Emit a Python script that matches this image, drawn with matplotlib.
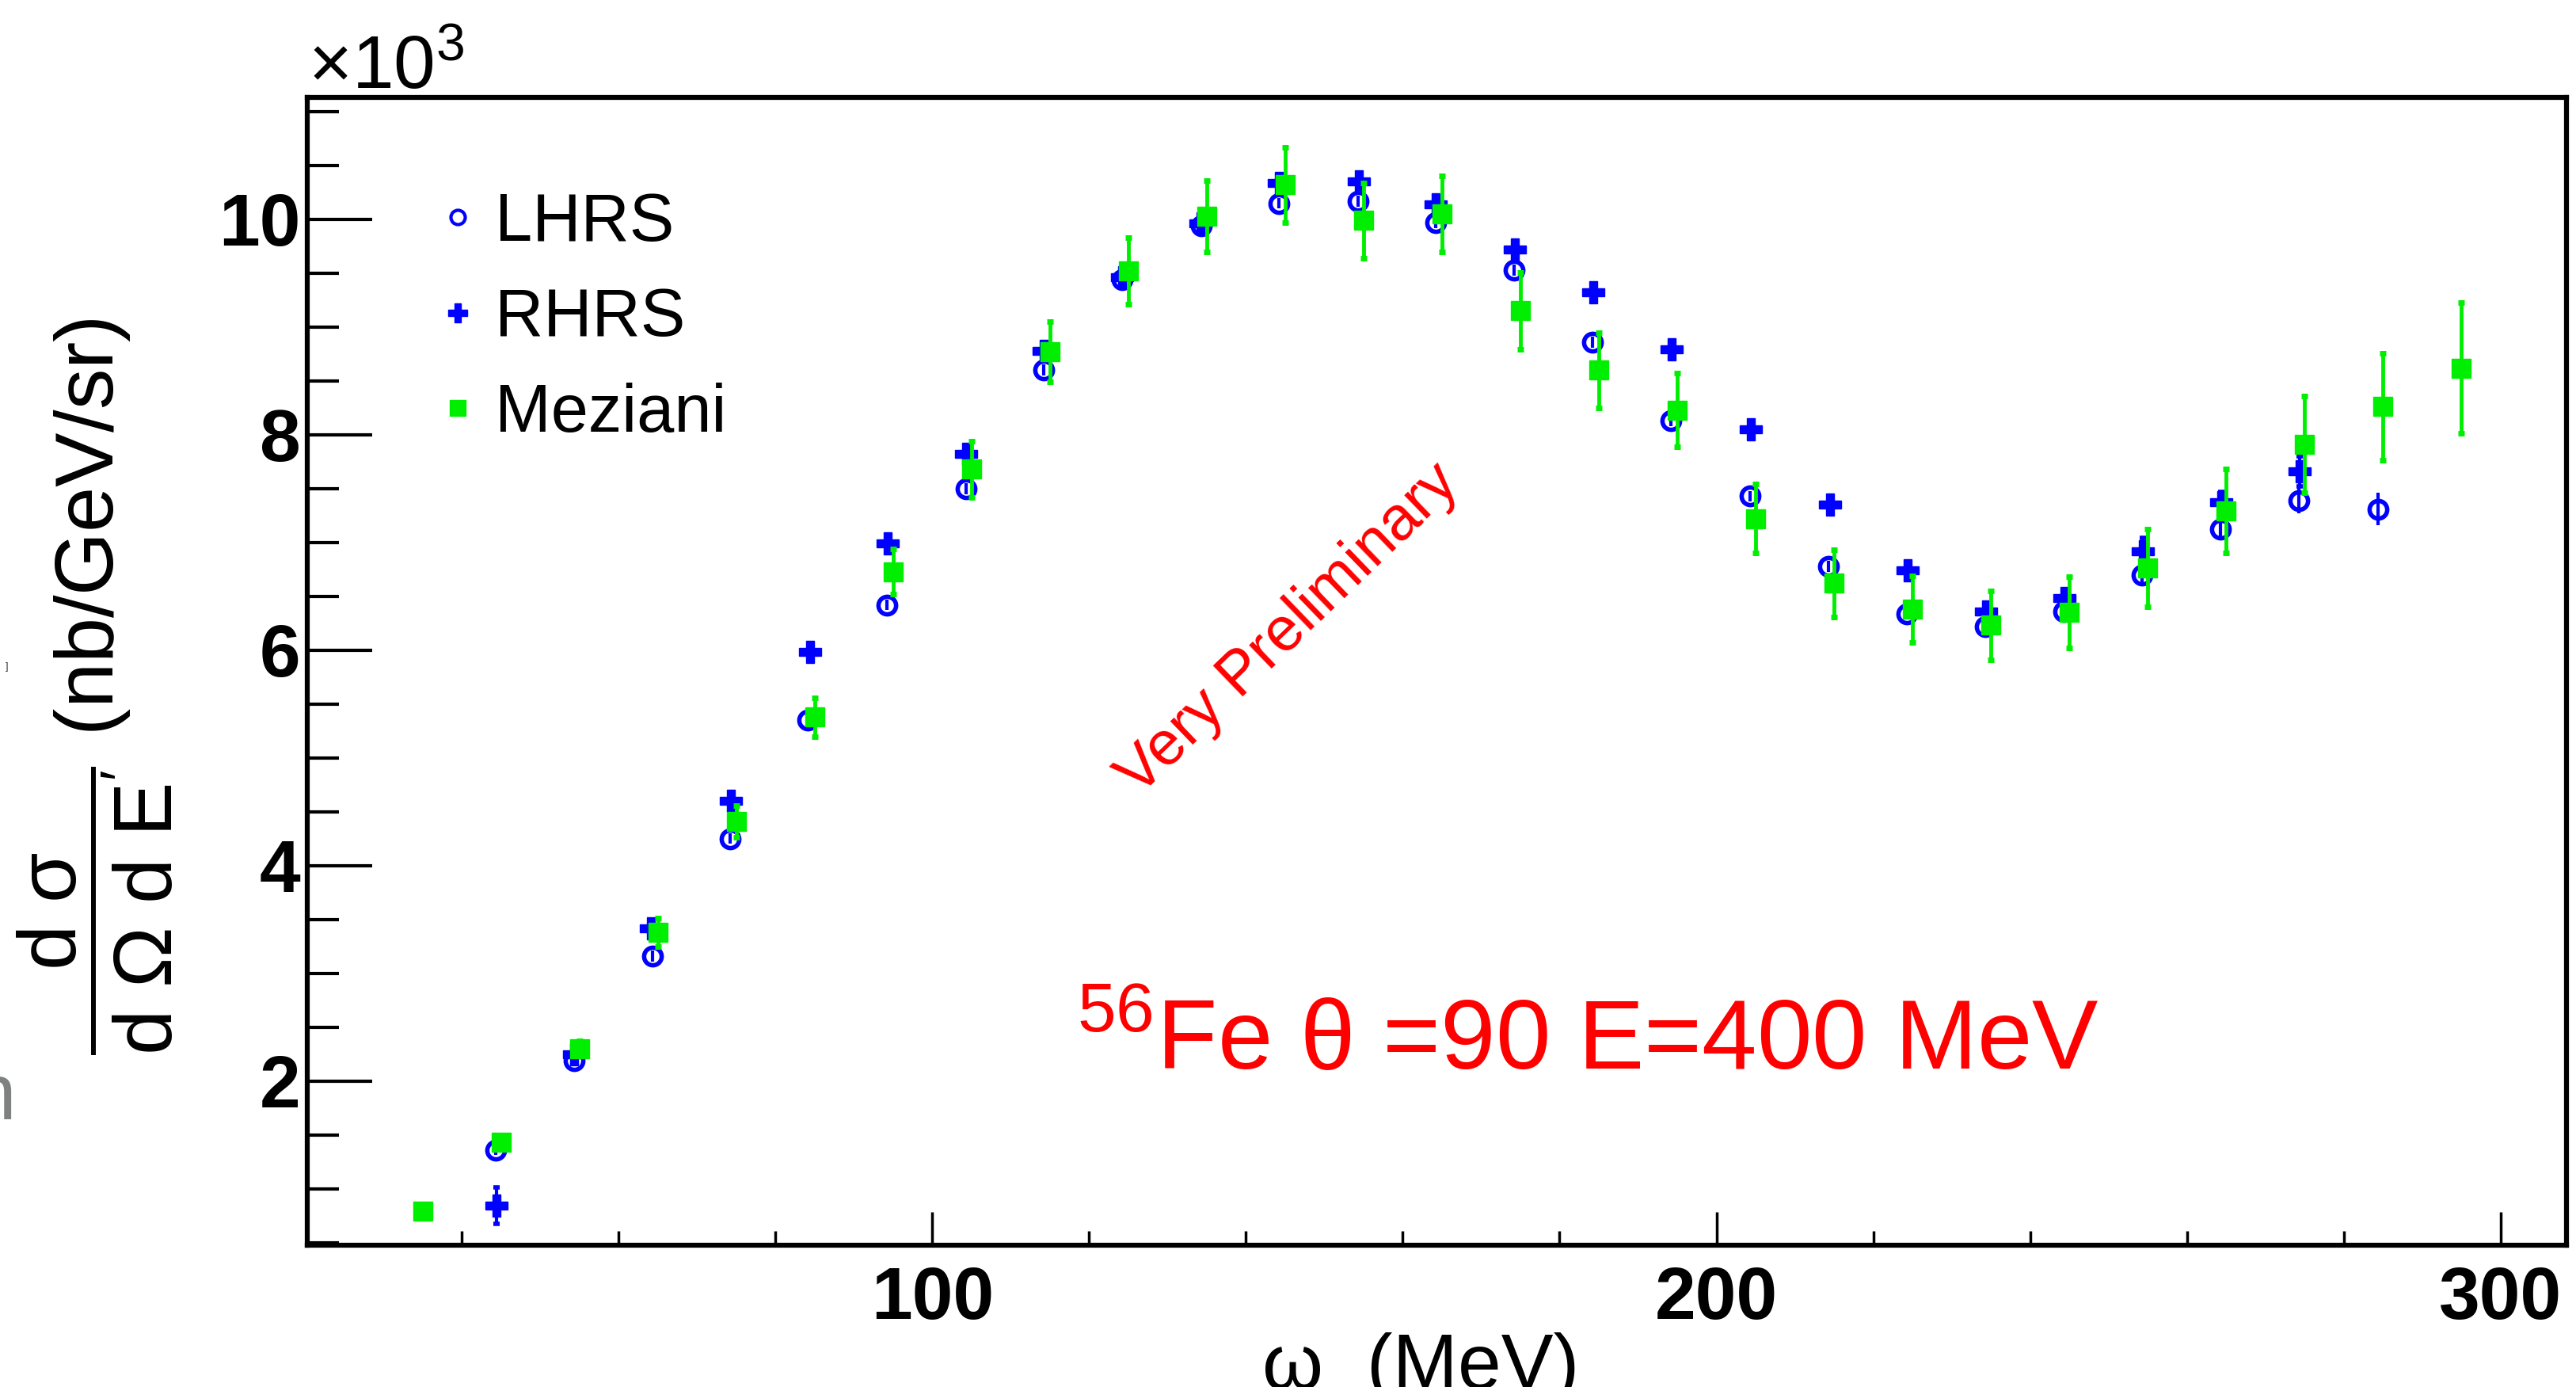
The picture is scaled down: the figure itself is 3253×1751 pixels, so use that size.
import numpy as np
import matplotlib
matplotlib.use('Agg')
import matplotlib.pyplot as plt
from matplotlib.ticker import MultipleLocator
from matplotlib.lines import Line2D

plt.rcParams['font.family'] = ['Liberation Sans', 'DejaVu Sans']
plt.rcParams['mathtext.fontset'] = 'custom'
plt.rcParams['mathtext.rm'] = 'Liberation Sans'
plt.rcParams['mathtext.it'] = 'Liberation Sans'
plt.rcParams['mathtext.bf'] = 'Liberation Sans:bold'
plt.rcParams['mathtext.default'] = 'regular'

# cross section, units of 10^3 nb/GeV/sr
lhrs_w = [44.3, 54.3, 64.3, 74.2, 84.1, 94.2, 104.3, 114.2, 124.2, 134.3, 144.2, 154.3, 164.2,
          174.2, 184.2, 194.2, 204.3, 214.3, 224.3, 234.3, 244.3, 254.3, 264.3, 274.3, 284.4]
lhrs_xs = [1.36, 2.19, 3.16, 4.25, 5.35, 6.42, 7.50, 8.60, 9.44, 9.94, 10.15, 10.17, 9.97,
           9.53, 8.86, 8.13, 7.43, 6.78, 6.34, 6.22, 6.36, 6.70, 7.12, 7.39, 7.31]
lhrs_err = [0.05, 0.05, 0.05, 0.05, 0.05, 0.05, 0.05, 0.05, 0.05, 0.05, 0.05, 0.05, 0.05,
            0.05, 0.05, 0.05, 0.05, 0.05, 0.05, 0.06, 0.07, 0.10, 0.10, 0.12, 0.15]

rhrs_w = [44.4, 54.3, 64.1, 74.3, 84.4, 94.3, 104.3, 114.2, 124.2, 134.2, 144.2, 154.4, 164.2,
          174.3, 184.3, 194.3, 204.4, 214.5, 224.4, 234.4, 244.4, 254.4, 264.4, 274.4]
rhrs_xs = [0.84, 2.25, 3.42, 4.60, 5.98, 6.99, 7.82, 8.78, 9.46, 9.96, 10.34, 10.35, 10.14,
           9.72, 9.32, 8.79, 8.05, 7.35, 6.74, 6.36, 6.48, 6.92, 7.37, 7.66]
rhrs_err = [0.17, 0.05, 0.05, 0.05, 0.05, 0.05, 0.05, 0.05, 0.05, 0.05, 0.05, 0.05, 0.05,
            0.05, 0.05, 0.05, 0.05, 0.05, 0.05, 0.05, 0.06, 0.12, 0.10, 0.14]

mez_w = [35, 45, 55, 65, 75, 85, 95, 105, 115, 125, 135, 145, 155, 165,
         175, 185, 195, 205, 215, 225, 235, 245, 255, 265, 275, 285, 295]
mez_xs = [0.79, 1.43, 2.30, 3.38, 4.41, 5.38, 6.73, 7.68, 8.77, 9.52, 10.03, 10.32, 9.99, 10.05,
          9.15, 8.60, 8.23, 7.22, 6.62, 6.38, 6.23, 6.35, 6.76, 7.29, 7.91, 8.26, 8.62]
mez_err = [0.0, 0.04, 0.07, 0.13, 0.15, 0.18, 0.21, 0.26, 0.28, 0.31, 0.33, 0.35, 0.35, 0.355,
           0.36, 0.35, 0.34, 0.32, 0.31, 0.31, 0.32, 0.33, 0.36, 0.39, 0.45, 0.50, 0.61]

blue = '#0000ff'
green = '#00ee00'
red = '#ff0000'

fig = plt.figure(figsize=(32.53, 17.51), dpi=100)
ax = fig.add_axes([0.1193, 0.1022, 0.877, 0.8277])

ax.errorbar(lhrs_w, lhrs_xs, yerr=lhrs_err, fmt='o', mfc='none', mec=blue, mew=4, ms=16,
            ecolor=blue, elinewidth=3, capsize=0, zorder=3)
ax.errorbar(rhrs_w, rhrs_xs, yerr=rhrs_err, fmt='P', mfc=blue, mec=blue, ms=20,
            ecolor=blue, elinewidth=3, capsize=3, capthick=4, zorder=4)
ax.errorbar(mez_w, mez_xs, yerr=mez_err, fmt='s', mfc=green, mec=green, ms=17,
            ecolor=green, elinewidth=3.5, capsize=3, capthick=5, zorder=5)

ax.set_xlim(20.3, 308.4)
ax.set_ylim(0.474, 11.134)

ax.xaxis.set_major_locator(MultipleLocator(100))
ax.xaxis.set_minor_locator(MultipleLocator(20))
ax.yaxis.set_major_locator(MultipleLocator(2))
ax.yaxis.set_minor_locator(MultipleLocator(0.5))

ax.tick_params(axis='y', which='major', direction='in', length=59, width=3, pad=6, labelsize=67)
ax.tick_params(axis='y', which='minor', direction='in', length=29, width=3)
ax.tick_params(axis='x', which='major', direction='in', length=30, width=2.5, pad=19, labelsize=67)
ax.tick_params(axis='x', which='minor', direction='in', length=13, width=2.5)
for lbl in ax.get_xticklabels() + ax.get_yticklabels():
    lbl.set_fontweight('bold')
for sp in ax.spines.values():
    sp.set_linewidth(4.5)

# legend
handles = [Line2D([], [], ls='none', marker='o', mfc='none', mec=blue, mew=3, ms=13),
           Line2D([], [], ls='none', marker='P', mfc=blue, mec=blue, ms=17),
           Line2D([], [], ls='none', marker='s', mfc=green, mec=green, ms=14)]
ax.legend(handles, ['LHRS', 'RHRS', 'Meziani'], loc='upper left', bbox_to_anchor=(0.0547, 0.918),
          frameon=False, fontsize=61, handlelength=0.8, handletextpad=0.15, labelspacing=0.48,
          borderpad=0, borderaxespad=0)

ax.text(145.4, 6.19, 'Very Preliminary', color=red, fontsize=56, rotation=44,
        rotation_mode='anchor', ha='center', va='center')
ax.text(118.3, 2.11, r'$^{56}$Fe θ =90 E=400 MeV', color=red, fontsize=90, va='baseline')

fig.text(0.1195, 0.936, r'$\times10^{3}$', fontsize=68, va='baseline')
fig.text(0.037, 0.505, r"$\dfrac{d\ \sigma}{d\ \Omega\ d\ E'}$ (nb/GeV/sr)", rotation=90,
         fontsize=74, ha='center', va='center')
fig.text(0.5515, -0.001, 'ω  (MeV)', fontsize=71, ha='center', va='baseline')

# stray bits from the slide edge
fig.text(0.0022, 1 - 845 / 1751, ']', fontsize=9, color='#333333')
fig.text(-0.011, 1 - 1413 / 1751, 'n', fontsize=72, color='#7f8080', va='baseline')

fig.savefig('out.png', dpi=100)
